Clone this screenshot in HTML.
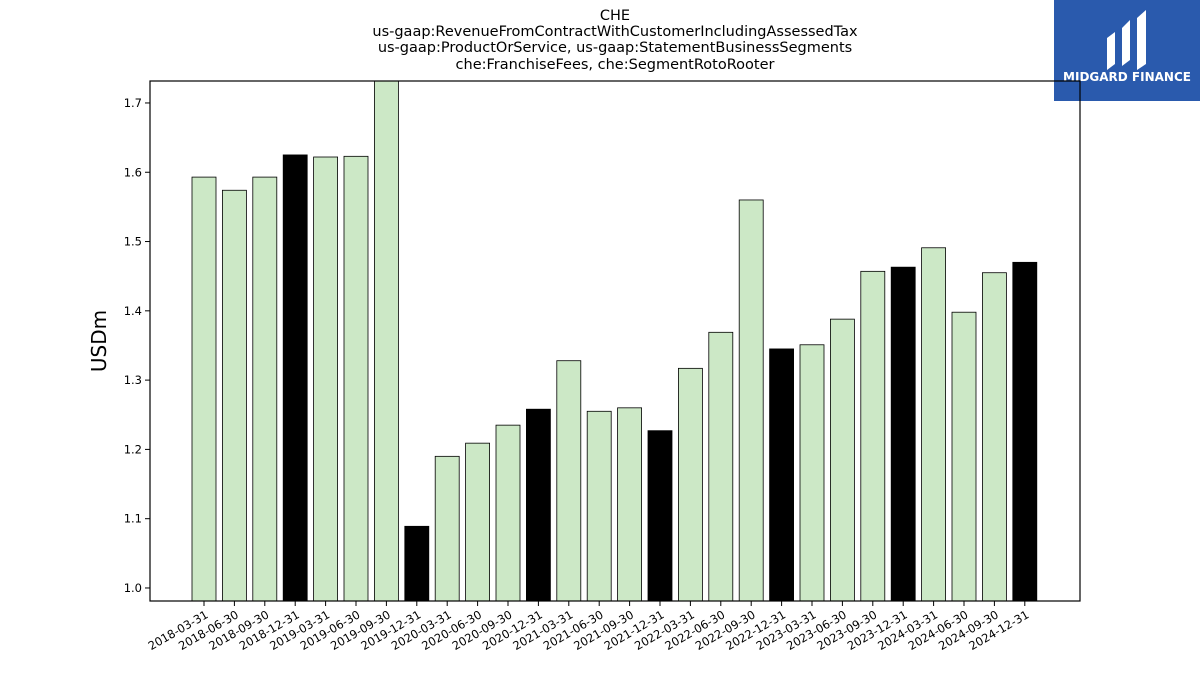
<!DOCTYPE html>
<html><head><meta charset="utf-8">
<style>
html,body{margin:0;padding:0;background:#fff;width:1200px;height:675px;overflow:hidden;font-family:"Liberation Sans","DejaVu Sans",sans-serif;}
</style></head>
<body>
<svg id="chart" width="1200" height="675" xmlns="http://www.w3.org/2000/svg" font-family="DejaVu Sans, Liberation Sans, sans-serif">
<g font-size="14.5" text-anchor="middle" fill="#000">
<text x="615" y="20">CHE</text>
<text x="615" y="36">us-gaap:RevenueFromContractWithCustomerIncludingAssessedTax</text>
<text x="615" y="52">us-gaap:ProductOrService, us-gaap:StatementBusinessSegments</text>
<text x="615" y="69">che:FranchiseFees, che:SegmentRotoRooter</text>
</g>
<g>
<rect x="1054" y="0" width="146" height="101" fill="#2a5aad"/>
<path d="M1107 70 L1107 38 L1115 32 L1115 64 Z M1122 66 L1122 28 L1130 20 L1130 60 Z M1137 70 L1137 18 L1146 10 L1146 64 Z" fill="#fff"/>
<text x="1127" y="81" font-size="12" font-weight="bold" fill="#fff" text-anchor="middle">MIDGARD FINANCE</text>
</g>
<g id="bars"></g>
<g id="yaxis"></g>
<g id="xaxis"></g>
<rect x="150" y="81" width="930" height="520" fill="none" stroke="#000" stroke-width="1.2"/>
<text x="106" y="341" font-size="20" text-anchor="middle" transform="rotate(-90 106 341)">USDm</text>
</svg>
<script>
const categories=["2018-03-31","2018-06-30","2018-09-30","2018-12-31","2019-03-31","2019-06-30","2019-09-30","2019-12-31","2020-03-31","2020-06-30","2020-09-30","2020-12-31","2021-03-31","2021-06-30","2021-09-30","2021-12-31","2022-03-31","2022-06-30","2022-09-30","2022-12-31","2023-03-31","2023-06-30","2023-09-30","2023-12-31","2024-03-31","2024-06-30","2024-09-30","2024-12-31"];
const values=[1.593,1.574,1.593,1.625,1.622,1.623,1.74,1.089,1.190,1.209,1.235,1.258,1.328,1.255,1.260,1.227,1.317,1.369,1.560,1.345,1.351,1.388,1.457,1.463,1.491,1.398,1.455,1.470];
const yTicks=[1.0,1.1,1.2,1.3,1.4,1.5,1.6,1.7];
const NS="http://www.w3.org/2000/svg";
const yMin=0.9812,yMax=1.7317,pTop=81,pBot=601,pLeft=150,pRight=1080;
function yS(v){return pBot-(v-yMin)/(yMax-yMin)*(pBot-pTop);}
const stepX=30.4,x0=204,bw=24;
function xS(i){return x0+i*stepX;}
const barsG=document.getElementById('bars'),yaG=document.getElementById('yaxis'),xaG=document.getElementById('xaxis');
values.forEach((v,i)=>{
 const r=document.createElementNS(NS,'rect');
 
 
 const yt=Math.max(yS(v),pTop);
 r.setAttribute('x',xS(i)-bw/2);r.setAttribute('y',yt);r.setAttribute('width',bw);r.setAttribute('height',pBot-yt);
 const q4=categories[i].endsWith('12-31');
 r.setAttribute('fill',q4?'#000':'#cce8c6');r.setAttribute('stroke','#000');r.setAttribute('stroke-width','0.8');
 barsG.appendChild(r);
 const t=document.createElementNS(NS,'line');
 
 
 t.setAttribute('x1',xS(i));t.setAttribute('x2',xS(i));t.setAttribute('y1',pBot);t.setAttribute('y2',pBot+5);t.setAttribute('stroke','#000');
 xaG.appendChild(t);
 const l=document.createElementNS(NS,'text');
 
 
 l.setAttribute('font-size','11.5');l.setAttribute('text-anchor','end');
 const lx=xS(i)+5,ly=pBot+16;
 l.setAttribute('x',lx);l.setAttribute('y',ly);l.setAttribute('transform','rotate(-30 '+lx+' '+ly+')');
 l.textContent=categories[i];xaG.appendChild(l);
});
yTicks.forEach(v=>{
 const t=document.createElementNS(NS,'line');
 
 
 t.setAttribute('x1',pLeft-5);t.setAttribute('x2',pLeft);t.setAttribute('y1',yS(v));t.setAttribute('y2',yS(v));t.setAttribute('stroke','#000');
 yaG.appendChild(t);
 const l=document.createElementNS(NS,'text');
 
 
 l.setAttribute('font-size','11.5');l.setAttribute('text-anchor','end');
 l.setAttribute('x',pLeft-8);l.setAttribute('y',yS(v)+4);
 l.textContent=v.toFixed(1);yaG.appendChild(l);
});
</script>
</body></html>
